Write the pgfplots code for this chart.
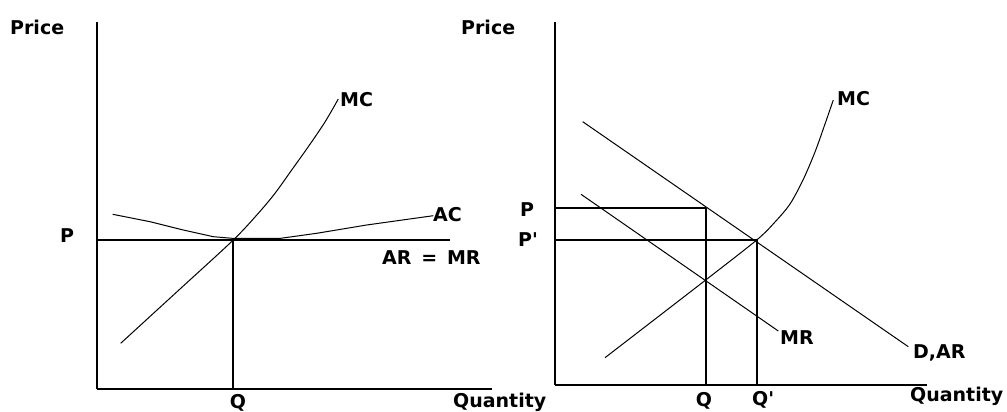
\documentclass[border=0pt]{standalone}
\usepackage{pgfplots}
\pgfplotsset{compat=1.18}
\usepackage{fontspec}
\setmainfont{DejaVu Sans}
\begin{document}
\begin{tikzpicture}[lab/.style={inner sep=0pt, font=\bfseries\fontsize{19}{22}\selectfont}]
\useasboundingbox (0,0) rectangle (1007pt,412pt);
% ---------------- left panel ----------------
\begin{axis}[scale only axis, width=395pt, height=367pt,
  at={(97pt,23pt)}, anchor=south west,
  xmin=97, xmax=492, ymin=23, ymax=390,
  axis lines=left, axis line style={-, line width=1.6pt},
  xtick=\empty, ytick=\empty, clip=false]
% MC
\addplot[black, line width=1pt, smooth, mark=none] coordinates {
 (120.7,68.7) (180,123) (233.3,172) (258.3,198.7) (275,218.7) (291.7,242) (308.3,265.3) (325,290) (338.3,313)};
% AC
\addplot[black, line width=1pt, mark=none] coordinates {
 (112.7,197.7) (150,190.3) (183.3,182) (213.3,175.3) (233.3,173.6) (280,173.6) (316.7,178.7) (366.7,187) (433.3,196.3)};
% P line and Q line
\addplot[black, line width=1.2pt, mark=none] coordinates {(97,172) (450,172)};
\addplot[black, line width=1.2pt, mark=none] coordinates {(233,23) (233,172)};
\node[lab, anchor=base west] at (axis cs:10,377) {Price};
\node[lab, anchor=base west] at (axis cs:60,169) {P};
\node[lab, anchor=base] at (axis cs:238,3) {Q};
\node[lab, anchor=base west] at (axis cs:453,4) {Quantity};
\node[lab, anchor=base west] at (axis cs:340,305) {MC};
\node[lab, anchor=base west] at (axis cs:433,190) {AC};
\node[lab, anchor=base west] at (axis cs:382,147) {AR \,=\, MR};
\end{axis}
% ---------------- right panel ----------------
\begin{axis}[scale only axis, width=372pt, height=363pt,
  at={(555pt,27pt)}, anchor=south west,
  xmin=555, xmax=927, ymin=27, ymax=390,
  axis lines=left, axis line style={-, line width=1.6pt},
  xtick=\empty, ytick=\empty, clip=false]
% D,AR
\addplot[black, line width=1pt, mark=none] coordinates {(582.7,290.3) (908.3,65.3)};
% MR
\addplot[black, line width=1pt, mark=none] coordinates {(581,217.7) (778.3,81)};
% MC
\addplot[black, line width=1pt, smooth, mark=none] coordinates {
 (605,54.3) (705.7,132) (756.7,172) (775,190) (790,208) (803,232) (815,260) (825,288) (833.3,312)};
% P, P', Q, Q' lines
\addplot[black, line width=1.2pt, mark=none] coordinates {(555,204) (706,204)};
\addplot[black, line width=1.2pt, mark=none] coordinates {(706,27) (706,204)};
\addplot[black, line width=1.2pt, mark=none] coordinates {(555,172) (757,172)};
\addplot[black, line width=1.2pt, mark=none] coordinates {(757,27) (757,172)};
\node[lab, anchor=base west] at (axis cs:461,377) {Price};
\node[lab, anchor=base west] at (axis cs:520,195) {P};
\node[lab, anchor=base west] at (axis cs:518,165) {P\textquotesingle};
\node[lab, anchor=base] at (axis cs:704,5) {Q};
\node[lab, anchor=base west] at (axis cs:752,6) {Q\textquotesingle};
\node[lab, anchor=base west] at (axis cs:910,10) {Quantity};
\node[lab, anchor=base west] at (axis cs:837,306) {MC};
\node[lab, anchor=base west] at (axis cs:780,67) {MR};
\node[lab, anchor=base west] at (axis cs:913,53) {D,AR};
\end{axis}
\end{tikzpicture}
\end{document}
